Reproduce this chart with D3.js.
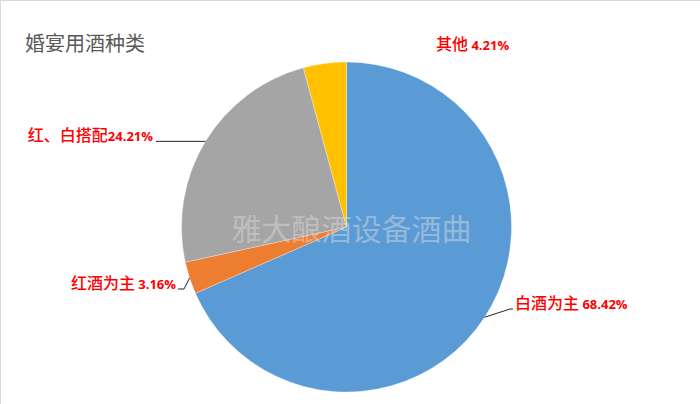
<!DOCTYPE html>
<html><head><meta charset="utf-8">
<script src="https://cdn.jsdelivr.net/npm/d3@7"></script>
<style>html,body{margin:0;padding:0;background:#fff;}svg{display:block;}</style>
</head><body>
<script>
const categories = ["白酒为主", "红酒为主", "红、白搭配", "其他"];
const values = [68.42, 3.16, 24.21, 4.21];
const valueLabels = ["68.42%", "3.16%", "24.21%", "4.21%"];
const colors = ["#5B9BD5", "#ED7D31", "#A5A5A5", "#FFC000"];

const W = 700, H = 404, cx = 346.5, cy = 227, R = 165;
const svg = d3.select("body").append("svg").attr("width", W).attr("height", H);
svg.append("rect").attr("x", 0.5).attr("y", 0.5).attr("width", W + 5).attr("height", H + 5)
  .attr("fill", "#fff").attr("stroke", "#d9d9d9");

svg.append("text").attr("x", 25).attr("y", 51).text("婚宴用酒种类")
  .attr("font-family", "Noto Sans CJK SC").attr("font-size", 20).attr("fill", "#595959");

const pie = d3.pie().sort(null).value(d => d)(values);
const arc = d3.arc().innerRadius(0).outerRadius(R);
const g = svg.append("g").attr("transform", `translate(${cx},${cy})`);
g.selectAll("path").data(pie).join("path").attr("d", arc)
  .attr("fill", (d, i) => colors[i]).attr("stroke", "#fff").attr("stroke-width", 0.3);

// watermark
svg.append("text").attr("x", cx + 5).attr("y", 240).attr("text-anchor", "middle")
  .text("雅大酿酒设备酒曲").attr("font-family", "Noto Sans CJK SC").attr("font-size", 30)
  .attr("fill", "#e0e0e0").attr("fill-opacity", 0.45);

const layout = [
  {x: 515, y: 309, anchor: "start", elbow: [510, 309], end: 513, leader: true},
  {x: 176, y: 289, anchor: "end", elbow: [184, 289], end: 178, leader: true},
  {x: 153, y: 141, anchor: "end", elbow: null, end: 156, leader: true},
  {x: 436, y: 50, anchor: "start", leader: false}
];

pie.forEach((d, i) => {
  const a = (d.startAngle + d.endAngle) / 2;
  const px = cx + R * Math.sin(a), py = cy - R * Math.cos(a);
  const L = layout[i];
  if (L.leader) {
    const pts = [[px, py]];
    if (L.elbow) pts.push(L.elbow);
    pts.push([L.end, L.elbow ? L.elbow[1] : py]);
    svg.append("path").attr("d", d3.line()(pts)).attr("fill", "none")
      .attr("stroke", "#262626").attr("stroke-width", 1);
  }
  const t = svg.append("text").attr("x", L.x).attr("y", L.y).attr("text-anchor", L.anchor)
    .attr("fill", "#FF0000");
  t.append("tspan").text(categories[i]).attr("font-family", "Noto Sans CJK SC")
    .attr("font-size", 16).attr("font-weight", 500);
  t.append("tspan").text((i === 2 ? "" : " ") + valueLabels[i])
    .attr("font-family", "Open Sans").attr("font-size", 13).attr("font-weight", "bold");
});
</script>
</body></html>
